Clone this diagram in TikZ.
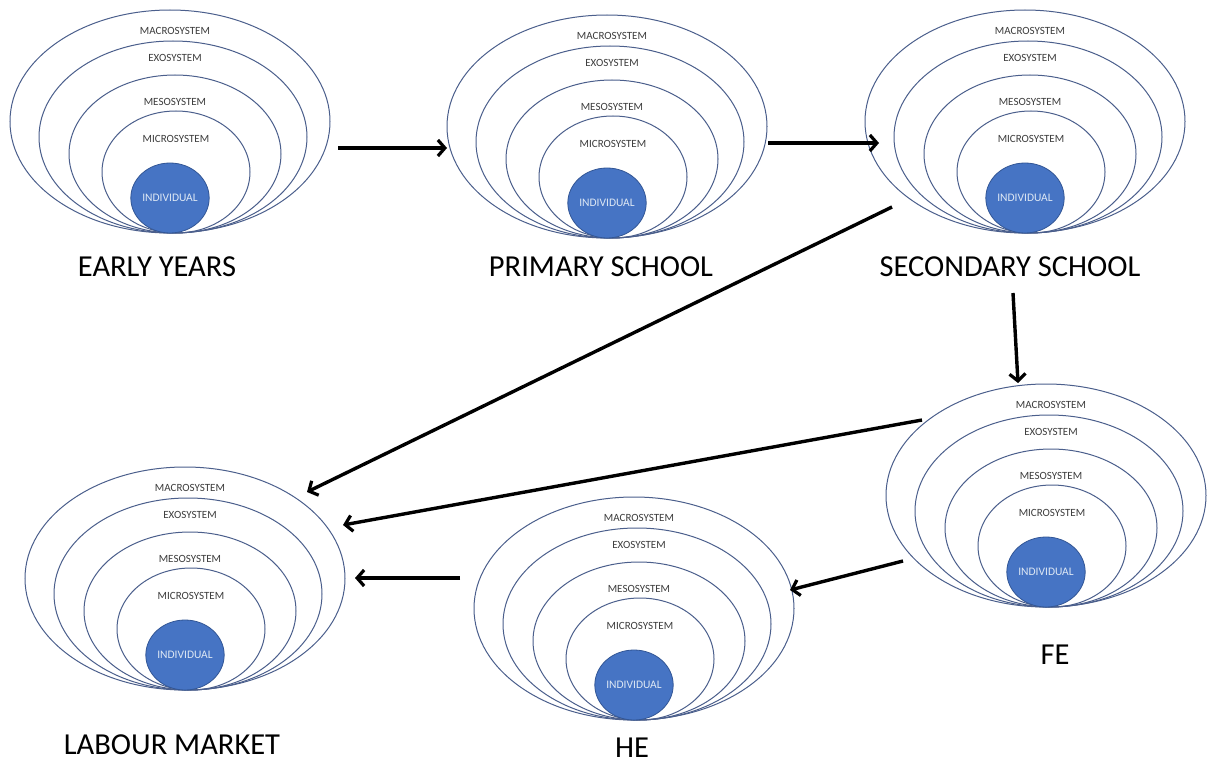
\documentclass[tikz,border=0pt]{standalone}
\usepackage{fontspec}
\setmainfont{Carlito}
\usetikzlibrary{shapes.geometric,arrows.meta}
\definecolor{ringcol}{RGB}{75,95,140}
\definecolor{indfill}{RGB}{70,116,196}
\definecolor{inddraw}{RGB}{50,86,150}
\definecolor{indtext}{RGB}{222,232,244}
\definecolor{smalltext}{RGB}{60,60,60}
\tikzset{
  sys/.style={ellipse, draw=ringcol, line width=1pt, inner sep=0pt, outer sep=0pt},
  indiv/.style={ellipse, draw=inddraw, fill=indfill, line width=0.8pt, inner sep=0pt, outer sep=0pt,
     text=indtext, font=\fontsize{11.5}{12}\selectfont},
  lbl/.style={text=smalltext, font=\fontsize{11}{12}\selectfont, inner sep=0pt},
  stage/.style={text=black, font=\fontsize{30.5}{32}\selectfont, inner sep=0pt},
  flow/.style={line width=3.4pt, -{Straight Barb[length=7pt,width=16pt,line width=3.2pt]}}
}
\newcommand\ecogroup[3]{%
  \node[sys, minimum width=320pt, minimum height=223pt] (#1-mac) at (#2, #3-111.5) {};
  \node[sys, minimum width=268pt, minimum height=192pt] (#1-exo) at (#2+3, #3-96) {};
  \node[sys, minimum width=212pt, minimum height=158pt] (#1-mes) at (#2+5, #3-79) {};
  \node[sys, minimum width=148pt, minimum height=122pt] (#1-mic) at (#2+6, #3-61) {};
  \node[indiv, minimum width=78pt, minimum height=70pt] (#1-ind) at (#2, #3-35) {INDIVIDUAL};
  \node[lbl] (#1-tmac) at (#2+5, #3-202) {MACROSYSTEM};
  \node[lbl] (#1-texo) at (#2+5, #3-175) {EXOSYSTEM};
  \node[lbl] (#1-tmes) at (#2+5, #3-131) {MESOSYSTEM};
  \node[lbl] (#1-tmic) at (#2+6, #3-94) {MICROSYSTEM};
}
\begin{document}
\begin{tikzpicture}[x=1pt,y=-1pt]
\useasboundingbox[fill=white] (0,0) rectangle (1213,765);
\ecogroup{ey}{170}{233}
\ecogroup{ps}{607}{238}
\ecogroup{ss}{1025}{233}
\ecogroup{fe}{1046}{607}
\ecogroup{lm}{185}{690}
\ecogroup{he}{634}{720}
\node[stage] (ey-l) at (157,267) {EARLY YEARS};
\node[stage] (ps-l) at (601,267) {PRIMARY SCHOOL};
\node[stage] (ss-l) at (1010,267) {SECONDARY SCHOOL};
\node[stage] (fe-l) at (1055,655) {FE};
\node[stage] (lm-l) at (172,745) {LABOUR MARKET};
\node[stage] (he-l) at (632,748) {HE};
% arrow endpoints
\coordinate (a1s) at (338,148); \coordinate (a1e) at (447,148);
\coordinate (a2s) at (768,143); \coordinate (a2e) at (879,143);
\coordinate (a3s) at (892,207); \coordinate (a3e) at (307,492);
\coordinate (a4s) at (922,420); \coordinate (a4e) at (343,525);
\coordinate (a5s) at (1013,293); \coordinate (a5e) at (1018,383);
\coordinate (a6s) at (903,561); \coordinate (a6e) at (790,590);
\coordinate (a7s) at (460,578); \coordinate (a7e) at (355,578);
\draw[flow] (a1s) -- (a1e);
\draw[flow] (a2s) -- (a2e);
\draw[flow] (a3s) -- (a3e);
\draw[flow] (a4s) -- (a4e);
\draw[flow] (a5s) -- (a5e);
\draw[flow] (a6s) -- (a6e);
\draw[flow] (a7s) -- (a7e);
\end{tikzpicture}
\end{document}
